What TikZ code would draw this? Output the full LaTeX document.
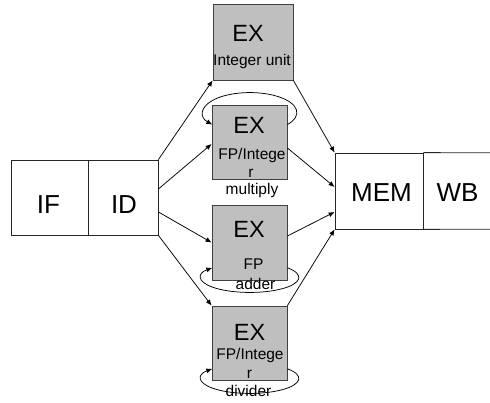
\documentclass[tikz,border=0pt]{standalone}
\usepackage{fontspec}
\setmainfont{Liberation Sans}
\usetikzlibrary{arrows.meta, calc}

\begin{document}
\begin{tikzpicture}
                [x=1pt, y=1pt,
                stage/.style={draw=black!85, fill=white, line width=0.8pt, inner sep=0pt, minimum height=75pt},
                exbox/.style={draw=black!75, fill=black!25, line width=0.8pt, inner sep=0pt, minimum width=75pt, minimum height=75pt},
                bigtxt/.style={anchor=base, inner sep=0pt, font=\fontsize{26}{30}\selectfont},
                extxt/.style={anchor=base, inner sep=0pt, font=\fontsize{23.5}{27}\selectfont},
                subtxt/.style={anchor=base, inner sep=0pt, font=\fontsize{15.5}{18}\selectfont},
                asty/.style={-{Latex[length=6pt, width=5pt]}, line width=0.75pt}]
                \useasboundingbox (0,0) rectangle (490,402);
                % nodes
                \node[stage, minimum width=77pt] (if) at (49.5,204.5) {};
                \node[stage, minimum width=70pt] (id) at (123,204.5) {};
                \node[exbox, minimum width=80pt, minimum height=76pt] (intunit) at (253,360) {};
                \node[exbox, minimum height=74pt] (mul) at (249.5,260) {};
                \node[exbox] (add) at (249.5,159.5) {};
                \node[exbox, minimum height=74pt] (div) at (249.5,59) {};
                \node[stage, minimum width=88pt, minimum height=76pt] (mem) at (379,211) {};
                \node[inner sep=0pt, minimum width=67pt, minimum height=76pt] (wb) at (456.5,211) {};
                \draw[black!85, line width=0.8pt] (mem.north east) -- (wb.north east);
                \draw[black!85, line width=0.8pt] (mem.south east) -- (wb.south east);
                % vertices
                \draw[asty] (id.north east) -- (intunit.south west);
                \draw[asty] ($(id.east)+(0,8.5)$) -- ($(mul.west)+(0,-2)$);
                \draw[asty] ($(id.east)+(0,-14.5)$) -- (add.west);
                \draw[asty] (id.south east) -- (div.north west);
                \draw[asty] (intunit.south east) -- (mem.north west);
                \draw[asty] ($(mul.east)+(0,-6)$) -- ($(mem.west)+(0,4)$);
                \draw[asty] ($(add.east)+(0,6.5)$) -- ($(mem.west)+(0,-21)$);
                \draw[asty] (div.north east) -- (mem.south west);
                % loops
                \draw[asty] ($(mul.north east)+(0,-20)$) arc[start angle=-37, end angle=217, x radius=47, y radius=20];
                \draw[asty] ($(add.south east)+(0,12.6)$) arc[start angle=40, end angle=-220, x radius=49, y radius=15];
                \draw[asty] ($(div.south east)+(0,11.6)$) arc[start angle=40, end angle=-220, x radius=49, y radius=15];
                % labels
                \node[bigtxt] (iflbl) at (48.5,188) {IF};
                \node[bigtxt] (idlbl) at (124,188) {ID};
                \node[bigtxt] (memlbl) at (381.5,200) {MEM};
                \node[bigtxt] (wblbl) at (457.5,200) {WB};
                \node[extxt] (intex) at (248,360) {EX};
                \node[subtxt] (intname) at (252,336) {Integer unit};
                \node[extxt] (mulex) at (249,268) {EX};
                \node[subtxt] (mulname) at (252,242) {FP/Intege};
                \node[subtxt] (mulr) at (251,224) {r};
                \node[subtxt] (mulop) at (252,207) {multiply};
                \node[extxt] (addex) at (249,164) {EX};
                \node[subtxt] (addname) at (253.5,132) {FP};
                \node[subtxt] (addop) at (255.5,113) {adder};
                \node[extxt] (divex) at (249.5,62) {EX};
                \node[subtxt] (divname) at (250,43) {FP/Intege};
                \node[subtxt] (divr) at (249.5,24) {r};
                \node[subtxt] (divop) at (248.5,6) {divider};
            \end{tikzpicture}
\end{document}
